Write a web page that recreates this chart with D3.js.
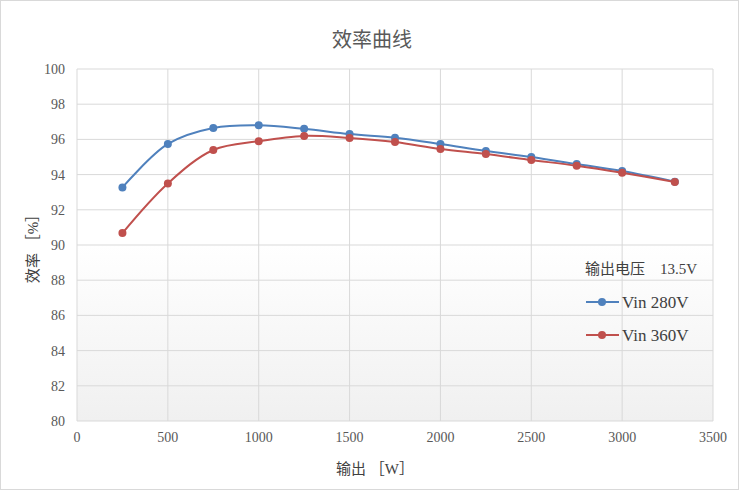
<!DOCTYPE html>
<html><head><meta charset="utf-8">
<script src="https://cdn.jsdelivr.net/npm/d3@7.9.0/dist/d3.min.js"></script>
<style>body{margin:0;background:#fff}text{font-family:"Liberation Serif","DejaVu Serif","Noto Sans CJK JP",serif}</style>
</head><body><svg id="chart"></svg>
<script>
const outputs = [250, 500, 750, 1000, 1250, 1500, 1750, 2000, 2250, 2500, 2750, 3000, 3290];
const vin280 = [93.27, 95.74, 96.65, 96.8, 96.6, 96.3, 96.1, 95.74, 95.34, 95.0, 94.6, 94.2, 93.6];
const vin360 = [90.68, 93.5, 95.4, 95.9, 96.2, 96.08, 95.85, 95.45, 95.17, 94.83, 94.5, 94.1, 93.58];
const series = [
  { name: 'Vin 280V', values: vin280, color: '#4f81bd' },
  { name: 'Vin 360V', values: vin360, color: '#c0504d' }
];
const xTicks = d3.range(0, 3501, 500);
const yTicks = d3.range(80, 101, 2);

const width = 750, height = 501;
const margin = { top: 69, right: 37, bottom: 80, left: 77 };
const svg = d3.select('#chart').attr('width', width).attr('height', height);

svg.append('rect').attr('x', 0.5).attr('y', 0.5).attr('width', width - 12).attr('height', height - 12)
  .attr('fill', '#fff').attr('stroke', '#d9d9d9');

const defs = svg.append('defs');
const grad = defs.append('linearGradient').attr('id', 'bg').attr('x1', 0).attr('y1', 0).attr('x2', 0).attr('y2', 1);
grad.append('stop').attr('offset', '0.5').attr('stop-color', '#fff');
grad.append('stop').attr('offset', '1').attr('stop-color', '#f0f0f0');

const x = d3.scaleLinear().domain([0, 3500]).range([margin.left, width - margin.right]);
const y = d3.scaleLinear().domain([80, 100]).range([height - margin.bottom, margin.top]);

svg.append('rect').attr('x', x(0)).attr('y', y(100)).attr('width', x(3500) - x(0)).attr('height', y(80) - y(100))
  .attr('fill', 'url(#bg)');

const g = svg.append('g');
g.selectAll('.gx').data(xTicks).join('line')
  .attr('x1', d => x(d)).attr('x2', d => x(d)).attr('y1', y(80)).attr('y2', y(100))
  .attr('stroke', '#d9d9d9');
g.selectAll('.gy').data(yTicks).join('line')
  .attr('y1', d => y(d)).attr('y2', d => y(d)).attr('x1', x(0)).attr('x2', x(3500))
  .attr('stroke', '#d9d9d9');

g.selectAll('.tx').data(xTicks).join('text')
  .attr('x', d => x(d)).attr('y', y(80) + 21).attr('text-anchor', 'middle')
  .attr('font-size', 14).attr('fill', '#595959').text(d => d);
g.selectAll('.ty').data(yTicks).join('text')
  .attr('x', x(0) - 12).attr('y', d => y(d) + 5).attr('text-anchor', 'end')
  .attr('font-size', 14).attr('fill', '#595959').text(d => d);

const line = d3.line().x((d, i) => x(outputs[i])).y(d => y(d)).curve(d3.curveCatmullRom.alpha(0.5));
series.forEach(s => {
  g.append('path').attr('d', line(s.values)).attr('fill', 'none')
    .attr('stroke', s.color).attr('stroke-width', 2);
  g.selectAll(null).data(s.values).join('circle')
    .attr('cx', (d, i) => x(outputs[i])).attr('cy', d => y(d)).attr('r', 4).attr('fill', s.color);
});

svg.append('text').attr('x', 372).attr('y', 47).attr('text-anchor', 'middle')
  .attr('font-size', 20).attr('fill', '#595959').text('效率曲线');
svg.append('text').attr('x', 375).attr('y', 474).attr('text-anchor', 'middle')
  .attr('font-size', 15).attr('fill', '#404040').text('输出 ［W］');
svg.append('text').attr('transform', `translate(38,${(y(80) + y(100)) / 2}) rotate(-90)`)
  .attr('text-anchor', 'middle').attr('font-size', 15).attr('fill', '#404040').text('效率 ［%］');

svg.append('text').attr('x', 697).attr('y', 274).attr('text-anchor', 'end')
  .attr('font-size', 15).attr('fill', '#404040').text('输出电压　13.5V');
series.forEach((s, i) => {
  const ly = 302 + i * 33;
  svg.append('line').attr('x1', 586).attr('x2', 619).attr('y1', ly).attr('y2', ly)
    .attr('stroke', s.color).attr('stroke-width', 2);
  svg.append('circle').attr('cx', 602).attr('cy', ly).attr('r', 4).attr('fill', s.color);
  svg.append('text').attr('x', 622).attr('y', ly + 6).attr('font-size', 17).attr('fill', '#404040').text(s.name);
});
</script></body></html>
